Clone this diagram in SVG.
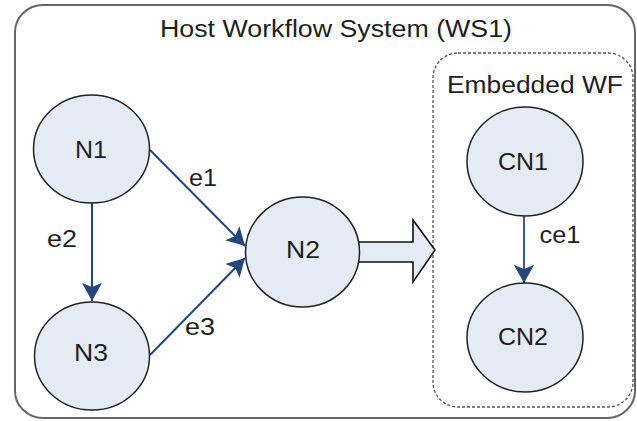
<svg xmlns="http://www.w3.org/2000/svg" width="637" height="421" viewBox="0 0 637 421">
<style>
  .node { fill: #e4ebf5; stroke: #222; stroke-width: 1.5; }
  .lbl { font-family: "Liberation Sans", Arial, sans-serif; font-size: 23px; fill: #1e1e1e; text-anchor: middle; }
  .edge { stroke: #23467f; stroke-width: 2; fill: none; marker-end: url(#ah); }
  .frame { fill: #fff; stroke: #666; stroke-width: 2; }
  .sub { fill: none; stroke: #555; stroke-width: 1.3; stroke-dasharray: 3 2; }
</style>
<defs>
  <marker id="ah" markerUnits="userSpaceOnUse" markerWidth="20" markerHeight="22" refX="18" refY="10" orient="auto">
    <path d="M0,0 L18,10 L0,20 L4,10 z" fill="#23467f"/>
  </marker>
</defs>
<rect width="637" height="421" fill="#fff"/>
<g id="host">
  <rect class="frame" x="15" y="5" width="620" height="413" rx="28" ry="27"/>
  <text class="lbl" x="336" y="37" textLength="352" lengthAdjust="spacingAndGlyphs">Host Workflow System (WS1)</text>
</g>
<g id="embedded">
  <rect class="sub" x="433" y="53" width="200" height="354" rx="25" ry="25"/>
  <text class="lbl" x="535" y="93" textLength="176" lengthAdjust="spacingAndGlyphs">Embedded WF</text>
</g>
<g id="connectors">
  <line class="edge" x1="150" y1="150" x2="245" y2="246"/>
  <line class="edge" x1="92" y1="203" x2="92" y2="301"/>
  <line class="edge" x1="150" y1="355" x2="245" y2="258"/>
  <line class="edge" x1="524" y1="216" x2="524" y2="283" style="stroke-width:1.8"/>
  <path id="blockarrow" d="M352,242 L413,242 L413,220 L435,250 L413,282 L413,262 L352,262 z" fill="#e4ebf5" stroke="#111" stroke-width="1.6"/>
  <text class="lbl" x="203" y="186" textLength="28" lengthAdjust="spacingAndGlyphs">e1</text>
  <text class="lbl" x="62" y="247" textLength="30" lengthAdjust="spacingAndGlyphs">e2</text>
  <text class="lbl" x="200" y="335" textLength="30" lengthAdjust="spacingAndGlyphs">e3</text>
  <text class="lbl" x="560" y="243" textLength="41" lengthAdjust="spacingAndGlyphs">ce1</text>
</g>
<g id="N1">
  <ellipse class="node" cx="91.5" cy="149" rx="58" ry="54"/>
  <text class="lbl" x="91" y="158" textLength="32" lengthAdjust="spacingAndGlyphs">N1</text>
</g>
<g id="N3">
  <ellipse class="node" cx="92" cy="356" rx="57.5" ry="54"/>
  <text class="lbl" x="91" y="361" textLength="34" lengthAdjust="spacingAndGlyphs">N3</text>
</g>
<g id="N2">
  <ellipse class="node" cx="302.5" cy="252" rx="57" ry="55"/>
  <text class="lbl" x="303" y="258" textLength="34" lengthAdjust="spacingAndGlyphs">N2</text>
</g>
<g id="CN1">
  <ellipse class="node" cx="525" cy="161.5" rx="58" ry="54.5"/>
  <text class="lbl" x="523" y="170" textLength="50" lengthAdjust="spacingAndGlyphs">CN1</text>
</g>
<g id="CN2">
  <ellipse class="node" cx="525" cy="337.5" rx="58" ry="54.5"/>
  <text class="lbl" x="523" y="345" textLength="50" lengthAdjust="spacingAndGlyphs">CN2</text>
</g>
</svg>
